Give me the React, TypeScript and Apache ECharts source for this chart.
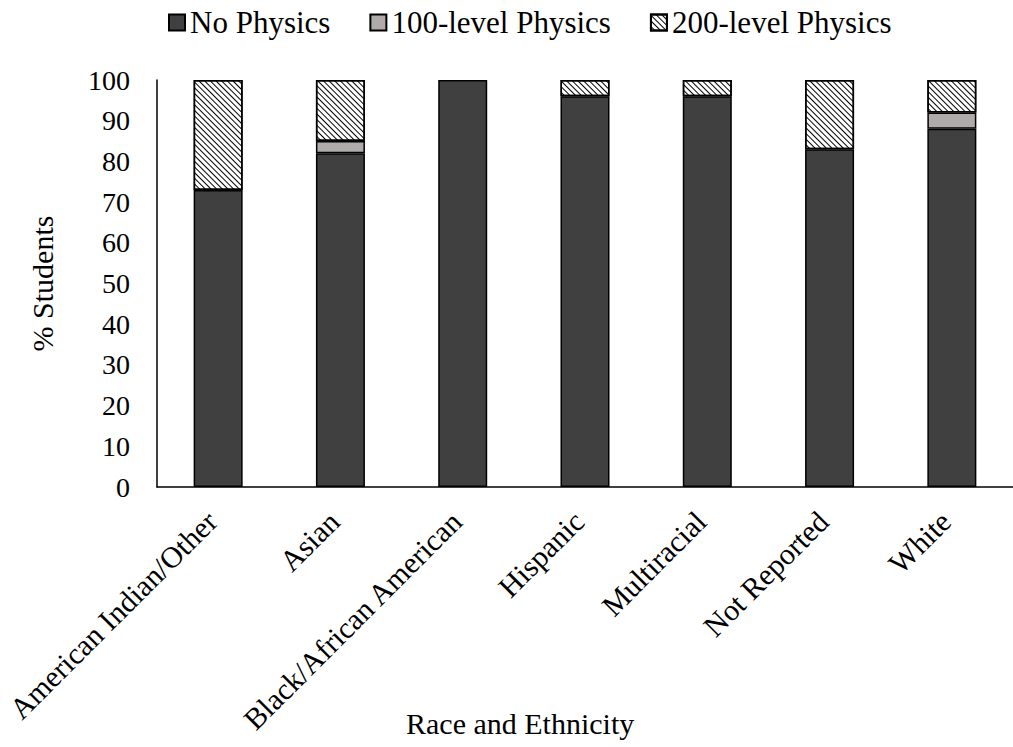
import React, { useEffect, useRef } from "react";
import * as echarts from "echarts";

const categories = [
  "American Indian/Other",
  "Asian",
  "Black/African American",
  "Hispanic",
  "Multiracial",
  "Not Reported",
  "White",
];
const noPhysics = [73, 82, 100, 96, 96, 83, 88];
const level100 = [0, 3, 0, 0, 0, 0, 4];
const level200 = [27, 15, 0, 4, 4, 17, 8];
const yTicks = { min: 0, max: 100, interval: 10 };

const FONT = "Liberation Serif";

const nz = (arr: number[]) => arr.map((v) => (v === 0 ? null : v));

export default function App() {
  const ref = useRef<HTMLDivElement>(null);
  useEffect(() => {
    if (!ref.current) return;
    const chart = echarts.init(ref.current, null, { renderer: "svg" });
    const border = { borderColor: "#000", borderWidth: 1.5 };
    chart.setOption({
      animation: false,
      backgroundColor: "#fff",
      legend: {
        left: 163,
        top: 2,
        icon: "rect",
        itemWidth: 16,
        itemHeight: 16,
        itemGap: 39,
        textStyle: { fontFamily: FONT, fontSize: 31, color: "#000" },
        data: ["No Physics", "100-level Physics", "200-level Physics"],
      },
      grid: { left: 157, right: -8, top: 80, bottom: 260 },
      xAxis: {
        type: "category",
        data: categories,
        axisLine: { show: true, lineStyle: { color: "#000", width: 1.5 } },
        axisTick: { show: false },
        axisLabel: {
          rotate: 45,
          margin: 23,
          padding: [0, 9, 0, 0],
          interval: 0,
          fontFamily: FONT,
          fontSize: 30,
          color: "#000",
        },
      },
      yAxis: {
        type: "value",
        min: yTicks.min,
        max: yTicks.max,
        interval: yTicks.interval,
        name: "% Students",
        nameLocation: "middle",
        nameGap: 100,
        nameTextStyle: { fontFamily: FONT, fontSize: 30, color: "#000" },
        axisLine: { show: true, lineStyle: { color: "#000", width: 1.5 } },
        axisTick: { show: false },
        splitLine: { show: false },
        axisLabel: { margin: 27, fontFamily: FONT, fontSize: 28, color: "#000" },
      },
      graphic: [
        {
          type: "text",
          left: 406,
          top: 708,
          style: {
            text: "Race and Ethnicity",
            fontFamily: FONT,
            fontSize: 30,
            fill: "#000",
          },
        },
      ],
      series: [
        {
          name: "No Physics",
          type: "bar",
          stack: "total",
          barWidth: 49,
          data: nz(noPhysics),
          itemStyle: { color: "#404040", ...border },
        },
        {
          name: "100-level Physics",
          type: "bar",
          stack: "total",
          barWidth: 49,
          data: nz(level100),
          itemStyle: { color: "#AFABAB", ...border },
        },
        {
          name: "200-level Physics",
          type: "bar",
          stack: "total",
          barWidth: 49,
          data: nz(level200),
          itemStyle: {
            color: "#fff",
            ...border,
            decal: {
              symbol: "rect",
              symbolSize: 1,
              color: "#000",
              backgroundColor: "#fff",
              dashArrayX: [1, 0],
              dashArrayY: [1, 2.5],
              rotation: Math.PI / 4,
            },
          },
        },
      ],
    });
    return () => chart.dispose();
  }, []);
  return (
    <div
      ref={ref}
      style={{ position: "absolute", left: 0, top: 0, width: 1013, height: 747 }}
    />
  );
}
